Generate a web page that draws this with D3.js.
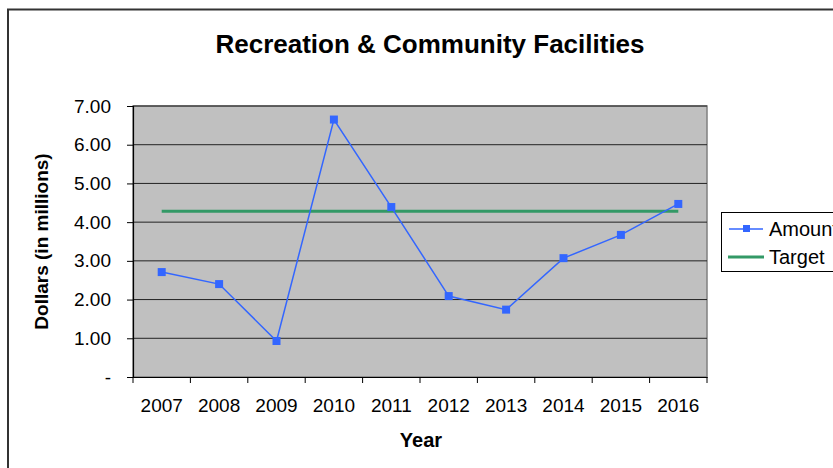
<!DOCTYPE html>
<html><head><meta charset="utf-8">
<script src="https://cdn.jsdelivr.net/npm/d3@7"></script>
<style>body{margin:0;background:#fff}svg{display:block}text{font-family:"Liberation Sans",Arial,sans-serif}</style>
</head><body><svg id="c" width="833" height="468"></svg>
<script>
const years = ["2007","2008","2009","2010","2011","2012","2013","2014","2015","2016"];
const amount = [2.71, 2.40, 0.93, 6.65, 4.39, 2.09, 1.74, 3.07, 3.67, 4.47];
const target = [4.28, 4.28, 4.28, 4.28, 4.28, 4.28, 4.28, 4.28, 4.28, 4.28];
const yTicks = [0, 1, 2, 3, 4, 5, 6, 7];

const svg = d3.select("#c");
const L = 133, R = 707, T = 106, B = 377;
const FONT = "Liberation Sans, Arial, sans-serif";

svg.append("rect").attr("x", 8).attr("y", 9.5).attr("width", 840).attr("height", 470)
  .attr("fill", "#fff").attr("stroke", "#333").attr("stroke-width", 2);

svg.append("text").attr("x", 430).attr("y", 53).attr("text-anchor", "middle")
  .attr("font-size", 26).attr("font-weight", "bold").text("Recreation & Community Facilities");

const x = d3.scaleBand().domain(years).range([L, R]);
const y = d3.scaleLinear().domain([0, 7]).range([B, T]);

svg.append("rect").attr("x", L).attr("y", T).attr("width", R - L).attr("height", B - T)
  .attr("fill", "#c0c0c0").attr("stroke", "#808080").attr("stroke-width", 1.5);

svg.append("g").selectAll("line").data(yTicks.filter(d => d > 0)).join("line")
  .attr("x1", L).attr("x2", R).attr("y1", d => y(d)).attr("y2", d => y(d))
  .attr("stroke", "#222").attr("stroke-width", 1);

const yAxis = svg.append("g").attr("transform", `translate(${L},0)`)
  .call(d3.axisLeft(y).tickValues(yTicks).tickSize(6).tickPadding(16)
    .tickFormat(d => d === 0 ? "-" : d3.format(".2f")(d)));
yAxis.attr("font-size", null).attr("font-family", null);
yAxis.select(".domain").attr("stroke", "#000").attr("stroke-width", 1.2);
yAxis.selectAll("text").style("font-size", "19px").attr("fill", "#000").style("font-family", FONT);
yAxis.selectAll(".tick line").attr("stroke", "#000");

const xAxis = svg.append("g").attr("transform", `translate(0,${B})`)
  .call(d3.axisBottom(x).tickSize(0).tickPadding(22));
xAxis.attr("font-size", null).attr("font-family", null);
xAxis.select(".domain").attr("stroke", "#000").attr("stroke-width", 1.2);
xAxis.selectAll("text").style("font-size", "19px").attr("fill", "#000").style("font-family", FONT);
const bounds = years.map(d => x(d)).concat([R]);
svg.append("g").selectAll("line").data(bounds).join("line")
  .attr("x1", d => d).attr("x2", d => d).attr("y1", B).attr("y2", B + 6)
  .attr("stroke", "#000");

svg.append("text").attr("transform", `translate(48,${(T + B) / 2}) rotate(-90)`)
  .attr("text-anchor", "middle").attr("font-size", 19).attr("font-weight", "bold")
  .text("Dollars (in millions)");
svg.append("text").attr("x", 421).attr("y", 447).attr("text-anchor", "middle")
  .attr("font-size", 20).attr("font-weight", "bold").text("Year");

const cx = d => x(d) + x.bandwidth() / 2;

svg.append("path").datum(target)
  .attr("d", d3.line().x((d, i) => cx(years[i])).y(d => y(d)))
  .attr("fill", "none").attr("stroke", "#339966").attr("stroke-width", 3);

svg.append("path").datum(amount)
  .attr("d", d3.line().x((d, i) => cx(years[i])).y(d => y(d)))
  .attr("fill", "none").attr("stroke", "#3366ff").attr("stroke-width", 1.5);

svg.append("g").selectAll("rect").data(amount).join("rect")
  .attr("x", (d, i) => cx(years[i]) - 4).attr("y", d => y(d) - 4)
  .attr("width", 8).attr("height", 8).attr("fill", "#3366ff");

// legend
const lg = svg.append("g");
lg.append("rect").attr("x", 721.5).attr("y", 212.5).attr("width", 140).attr("height", 59)
  .attr("fill", "#fff").attr("stroke", "#000").attr("stroke-width", 1);
lg.append("line").attr("x1", 729).attr("x2", 763).attr("y1", 229).attr("y2", 229)
  .attr("stroke", "#3366ff").attr("stroke-width", 1.5);
lg.append("rect").attr("x", 743).attr("y", 225).attr("width", 7).attr("height", 7).attr("fill", "#3366ff");
lg.append("text").attr("x", 769).attr("y", 236).attr("font-size", 20).text("Amount");
lg.append("line").attr("x1", 728).attr("x2", 764).attr("y1", 257).attr("y2", 257)
  .attr("stroke", "#339966").attr("stroke-width", 3);
lg.append("text").attr("x", 769).attr("y", 264).attr("font-size", 20).text("Target");
</script></body></html>
